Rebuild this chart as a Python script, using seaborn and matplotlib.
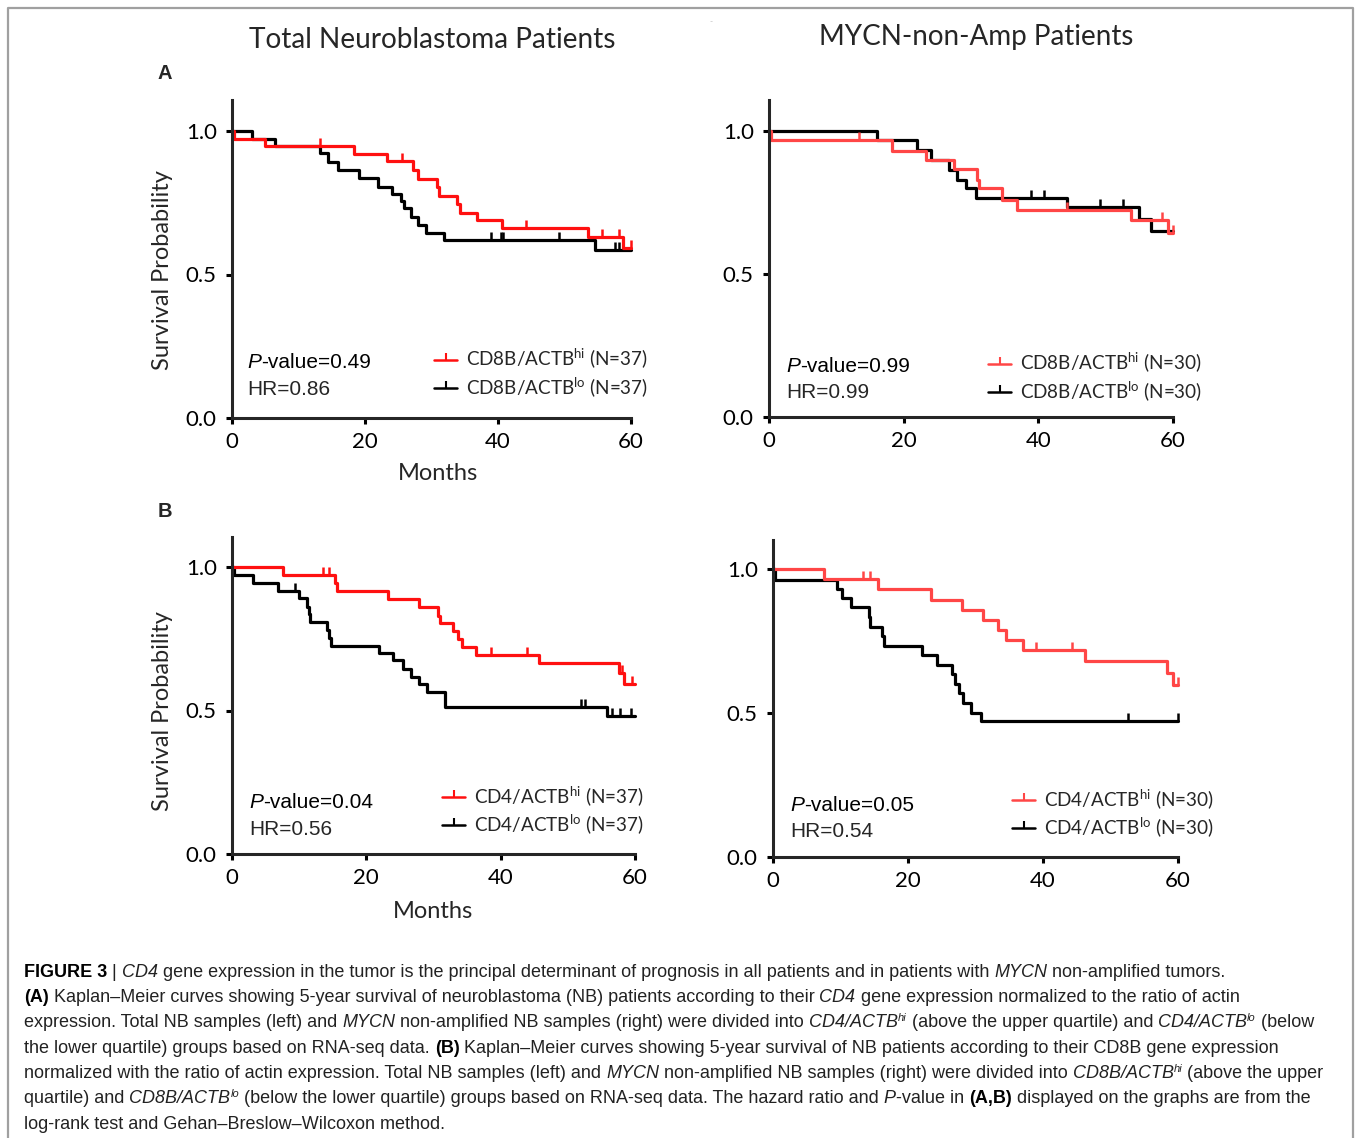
import numpy as np
import matplotlib
matplotlib.use('Agg')
import matplotlib.pyplot as plt
import seaborn as sns
from matplotlib.lines import Line2D
from matplotlib.markers import TICKUP

W, H = 1355, 1138
END_MONTH = 60

# ---- survival data (event month, survival after event) ----
# A left: total NB, CD8B/ACTB
a_tot_hi_t = [0.3, 4.9, 18.4, 23.3, 27.2, 27.9, 30.8, 31.2, 33.9, 34.3, 36.8, 40.6, 53.6, 58.8]
a_tot_hi_s = [0.973, 0.948, 0.921, 0.894, 0.863, 0.833, 0.804, 0.775, 0.746, 0.716, 0.690, 0.662, 0.629, 0.594]
a_tot_hi_c = [13.2, 25.5, 44.2, 55.7, 58.2, 60.0]
a_tot_lo_t = [3.0, 6.5, 13.2, 14.5, 15.9, 19.1, 21.9, 24.1, 25.4, 25.9, 26.9, 28.0, 29.2, 31.9, 54.6]
a_tot_lo_s = [0.973, 0.946, 0.923, 0.892, 0.863, 0.836, 0.806, 0.781, 0.757, 0.730, 0.701, 0.672, 0.646, 0.620, 0.586]
a_tot_lo_c = [38.9, 40.4, 40.8, 49.1, 57.6, 58.2]

# A right: MYCN non-amplified, CD8B/ACTB
a_nam_hi_t = [0.3, 18.2, 23.3, 27.5, 30.9, 31.2, 34.6, 36.8, 53.7, 59.2]
a_nam_hi_s = [0.967, 0.931, 0.898, 0.866, 0.830, 0.799, 0.760, 0.725, 0.688, 0.643]
a_nam_hi_c = [13.3, 44.3, 58.4, 60.0]
a_nam_lo_t = [16.0, 22.0, 24.0, 26.8, 27.9, 29.2, 30.7, 44.3, 54.9, 56.8]
a_nam_lo_s = [0.967, 0.933, 0.900, 0.863, 0.830, 0.799, 0.767, 0.734, 0.694, 0.649]
a_nam_lo_c = [38.9, 40.8, 49.2, 52.6]

# B left: total NB, CD4/ACTB
b_tot_hi_t = [7.6, 15.3, 15.7, 23.3, 27.8, 30.7, 31.0, 32.9, 33.7, 34.3, 36.4, 45.7, 57.6, 58.3]
b_tot_hi_s = [0.973, 0.944, 0.916, 0.889, 0.860, 0.831, 0.804, 0.778, 0.749, 0.720, 0.693, 0.664, 0.632, 0.593]
b_tot_hi_c = [13.6, 14.5, 38.5, 43.9, 58.1, 59.6]
b_tot_lo_t = [0.3, 3.2, 6.9, 10.0, 11.2, 11.4, 11.6, 14.2, 14.5, 14.7, 21.9, 24.0, 25.5, 26.6, 27.9, 29.1, 31.7, 55.8]
b_tot_lo_s = [0.973, 0.945, 0.918, 0.891, 0.862, 0.837, 0.810, 0.781, 0.753, 0.726, 0.702, 0.675, 0.644, 0.617, 0.591, 0.564, 0.513, 0.480]
b_tot_lo_c = [9.4, 52.0, 52.5, 56.6, 57.7, 59.4]

# B right: MYCN non-amplified, CD4/ACTB
b_nam_hi_t = [7.6, 15.6, 23.4, 28.0, 31.1, 33.3, 34.5, 37.0, 46.2, 58.3, 59.2]
b_nam_hi_s = [0.965, 0.931, 0.894, 0.856, 0.823, 0.789, 0.754, 0.719, 0.679, 0.638, 0.598]
b_nam_hi_c = [13.4, 14.4, 39.0, 44.3, 60.0]
b_nam_lo_t = [0.3, 9.5, 10.2, 11.6, 14.2, 14.4, 16.2, 16.5, 22.1, 24.3, 26.5, 26.9, 27.5, 28.1, 29.4, 30.8]
b_nam_lo_s = [0.963, 0.931, 0.898, 0.867, 0.832, 0.798, 0.766, 0.734, 0.700, 0.667, 0.634, 0.602, 0.569, 0.535, 0.500, 0.472]
b_nam_lo_c = [52.6, 60.0]

p_values = ['0.49', '0.99', '0.04', '0.05']
hazard_ratios = ['0.86', '0.99', '0.56', '0.54']
hi_labels = [r'CD8B/ACTB$^{\mathregular{hi}}$ (N=37)', r'CD8B/ACTB$^{\mathregular{hi}}$ (N=30)',
             r'CD4/ACTB$^{\mathregular{hi}}$ (N=37)', r'CD4/ACTB$^{\mathregular{hi}}$ (N=30)']
lo_labels = [r'CD8B/ACTB$^{\mathregular{lo}}$ (N=37)', r'CD8B/ACTB$^{\mathregular{lo}}$ (N=30)',
             r'CD4/ACTB$^{\mathregular{lo}}$ (N=37)', r'CD4/ACTB$^{\mathregular{lo}}$ (N=30)']
col_titles = ['Total Neuroblastoma Patients', 'MYCN-non-Amp Patients']

# ---- style ----
sns.set_style('ticks')
plt.rcParams['font.family'] = ['Lato', 'DejaVu Sans']
plt.rcParams['axes.linewidth'] = 2.2

CHART_FONT = 'Lato'
STAT_FONT = 'Liberation Sans'
CAP_FONT = 'Liberation Sans'
RED_L = '#FF1010'
RED_R = '#FF4646'

# panel layout in pixels: x0, x60, y0 (survival 0), y1 (survival 1), ytop
LAYOUT = [
    (232, 631, 418, 131, 100),
    (769, 1173, 417, 131, 100),
    (232, 635, 854, 567, 537),
    (773, 1178, 857, 569, 540),
]
# axis-label centres in pixels (Months x, y; Survival Probability x, y)
LABEL_PIX = [(438, 473, 162, 270), None, (433, 911, 162, 711), None]
STAT_POS = [(0.038, 0.175, 0.089), (0.042, 0.158, 0.077), (0.042, 0.161, 0.076), (0.042, 0.161, 0.080)]
LEG_POS = [(0.507, 0.141), (0.543, 0.125), (0.522, 0.137), (0.591, 0.137)]


def km_steps(times, surv, end=END_MONTH):
    x = [0.0] + list(times) + [end]
    y = [1.0] + list(surv) + [surv[-1]]
    return np.array(x), np.array(y)


def surv_at(times, surv, when):
    idx = np.searchsorted(times, when, side='right')
    return np.where(idx == 0, 1.0, np.array(surv)[np.maximum(idx - 1, 0)])


def chain_text(ax, x, y, segs, size, family, color='#222222', transform=None):
    """Place text segments one after another on a shared baseline."""
    first = prev = None
    for txt, sty in segs:
        kw = dict(fontsize=size, family=family, color=color)
        if 'i' in sty:
            kw['style'] = 'italic'
        if 'b' in sty:
            kw['weight'] = 'bold'
            kw['color'] = 'black'
        if first is None:
            t = ax.text(x, y, txt, ha='left', va='baseline',
                        transform=transform or ax.transData, **kw)
            first = t
        else:
            dy = 0
            if 's' in sty:
                kw['fontsize'] = size * 0.62
                dy = size * 0.42
            t = ax.annotate(txt, xy=(1, 0), xycoords=(prev, first),
                            xytext=(0, dy), textcoords='offset points',
                            ha='left', va='bottom', **kw)
        prev = t
    return first


fig = plt.figure(figsize=(W / 100, H / 100), dpi=100)

# overlay in pixel coordinates for titles, frame and caption
ov = fig.add_axes([0, 0, 1, 1], zorder=-1)
ov.set_xlim(0, W)
ov.set_ylim(H, 0)
ov.axis('off')
ov.plot([8, 8, 1353, 1353], [H + 5, 8, 8, H + 5], color='#a0a0a0', lw=1.6)

ov.text(432, 40, col_titles[0], ha='center', va='center', fontsize=20.2, family=CHART_FONT)
ov.text(976, 37, col_titles[1], ha='center', va='center', fontsize=20, family=CHART_FONT)
ov.text(711, 22, '-', ha='center', va='center', fontsize=6, color='#bbbbbb')
ov.text(165, 73, 'A', ha='center', va='center', fontsize=14.5, weight='bold', family=STAT_FONT)
ov.text(165, 511, 'B', ha='center', va='center', fontsize=14.5, weight='bold', family=STAT_FONT)

curves = [
    ((a_tot_hi_t, a_tot_hi_s, a_tot_hi_c), (a_tot_lo_t, a_tot_lo_s, a_tot_lo_c)),
    ((a_nam_hi_t, a_nam_hi_s, a_nam_hi_c), (a_nam_lo_t, a_nam_lo_s, a_nam_lo_c)),
    ((b_tot_hi_t, b_tot_hi_s, b_tot_hi_c), (b_tot_lo_t, b_tot_lo_s, b_tot_lo_c)),
    ((b_nam_hi_t, b_nam_hi_s, b_nam_hi_c), (b_nam_lo_t, b_nam_lo_s, b_nam_lo_c)),
]

for i, ((hi, lo), (x0, x60, y0, y1, ytop)) in enumerate(zip(curves, LAYOUT)):
    ax = fig.add_axes([x0 / W, 1 - y0 / H, (x60 - x0) / W, (y0 - ytop) / H])
    red = RED_L if i % 2 == 0 else RED_R

    for (t, s, c), color in ((lo, 'black'), (hi, red)):
        xs, ys = km_steps(t, s)
        sns.lineplot(x=xs, y=ys, ax=ax, color=color, lw=2.3, drawstyle='steps-post',
                     estimator=None, sort=False, clip_on=False, legend=False)
        ax.plot(c, surv_at(t, s, c), ls='none', marker=TICKUP, ms=5.5, mew=1.8,
                color=color, clip_on=False)

    ax.set_xlim(0, END_MONTH)
    ax.set_ylim(0, (y0 - ytop) / (y0 - y1))
    ax.set_xticks([0, 20, 40, 60])
    ax.set_yticks([0, 0.5, 1.0])
    ax.set_yticklabels(['0.0', '0.5', '1.0'])
    sns.despine(ax=ax)
    ax.tick_params(length=4.5, width=2.2, labelsize=16, colors='black')
    ax.tick_params(axis='y', pad=6.5)
    ax.tick_params(axis='x', pad=5.5)
    ax.set_ylabel('')
    ax.set_xlabel('')

    if LABEL_PIX[i] is not None:
        mx, my, sx_, sy_ = LABEL_PIX[i]
        ax.set_xlabel('Months', fontsize=17, family=CHART_FONT)
        ax.xaxis.set_label_coords((mx - x0) / (x60 - x0), -(my - y0) / (y0 - ytop))
        ax.xaxis.label.set_va('center')
        ax.set_ylabel('Survival Probability', fontsize=17, family=CHART_FONT)
        ax.yaxis.set_label_coords((sx_ - x0) / (x60 - x0), (y0 - sy_) / (y0 - ytop))
        ax.yaxis.label.set_va('center')

    sx, sy1, sy2 = STAT_POS[i]
    pv = chain_text(ax, sx, sy1, [('P', 'i'), ('-value=' + p_values[i], '')], 15,
                    STAT_FONT, color='black', transform=ax.transAxes)
    pv.set_va('center')
    ax.text(sx, sy2, 'HR=' + hazard_ratios[i], fontsize=15, family=STAT_FONT,
            ha='left', va='center', transform=ax.transAxes)

    handles = [Line2D([], [], color=red, lw=1.8, marker=TICKUP, ms=5, mew=1.5),
               Line2D([], [], color='black', lw=1.8, marker=TICKUP, ms=5, mew=1.5)]
    ax.legend(handles, [hi_labels[i], lo_labels[i]], loc='center left',
              bbox_to_anchor=LEG_POS[i], frameon=False, prop={'family': CHART_FONT, 'size': 13.6},
              handlelength=1.2, handletextpad=0.5, labelspacing=0.2,
              borderpad=0, borderaxespad=0)

# ---- caption ----
caption = [
    [('FIGURE 3', 'b'), (' | ', ''), ('CD4', 'i'),
     (' gene expression in the tumor is the principal determinant of prognosis in all patients and in patients with ', ''),
     ('MYCN', 'i'), (' non-amplified tumors.', '')],
    [('(A)', 'b'), (' Kaplan\u2013Meier curves showing 5-year survival of neuroblastoma (NB) patients according to their ', ''),
     ('CD4', 'i'), (' gene expression normalized to the ratio of actin', '')],
    [('expression. Total NB samples (left) and ', ''), ('MYCN', 'i'),
     (' non-amplified NB samples (right) were divided into ', ''), ('CD4/ACTB', 'i'), ('hi', 'is'),
     (' (above the upper quartile) and ', ''), ('CD4/ACTB', 'i'), ('lo', 'is'), (' (below', '')],
    [('the lower quartile) groups based on RNA-seq data. ', ''), ('(B)', 'b'),
     (' Kaplan\u2013Meier curves showing 5-year survival of NB patients according to their CD8B gene expression', '')],
    [('normalized with the ratio of actin expression. Total NB samples (left) and ', ''), ('MYCN', 'i'),
     (' non-amplified NB samples (right) were divided into ', ''), ('CD8B/ACTB', 'i'), ('hi', 'is'),
     (' (above the upper', '')],
    [('quartile) and ', ''), ('CD8B/ACTB', 'i'), ('lo', 'is'),
     (' (below the lower quartile) groups based on RNA-seq data. The hazard ratio and ', ''),
     ('P', 'i'), ('-value in ', ''), ('(A,B)', 'b'), (' displayed on the graphs are from the', '')],
    [('log-rank test and Gehan\u2013Breslow\u2013Wilcoxon method.', '')],
]
cap_base = [977, 1002, 1027, 1053, 1078, 1103, 1129]
for segs, yb in zip(caption, cap_base):
    chain_text(ov, 24, yb, segs, 13.0, CAP_FONT)

fig.savefig('out.png', dpi=100)
plt.close(fig)
